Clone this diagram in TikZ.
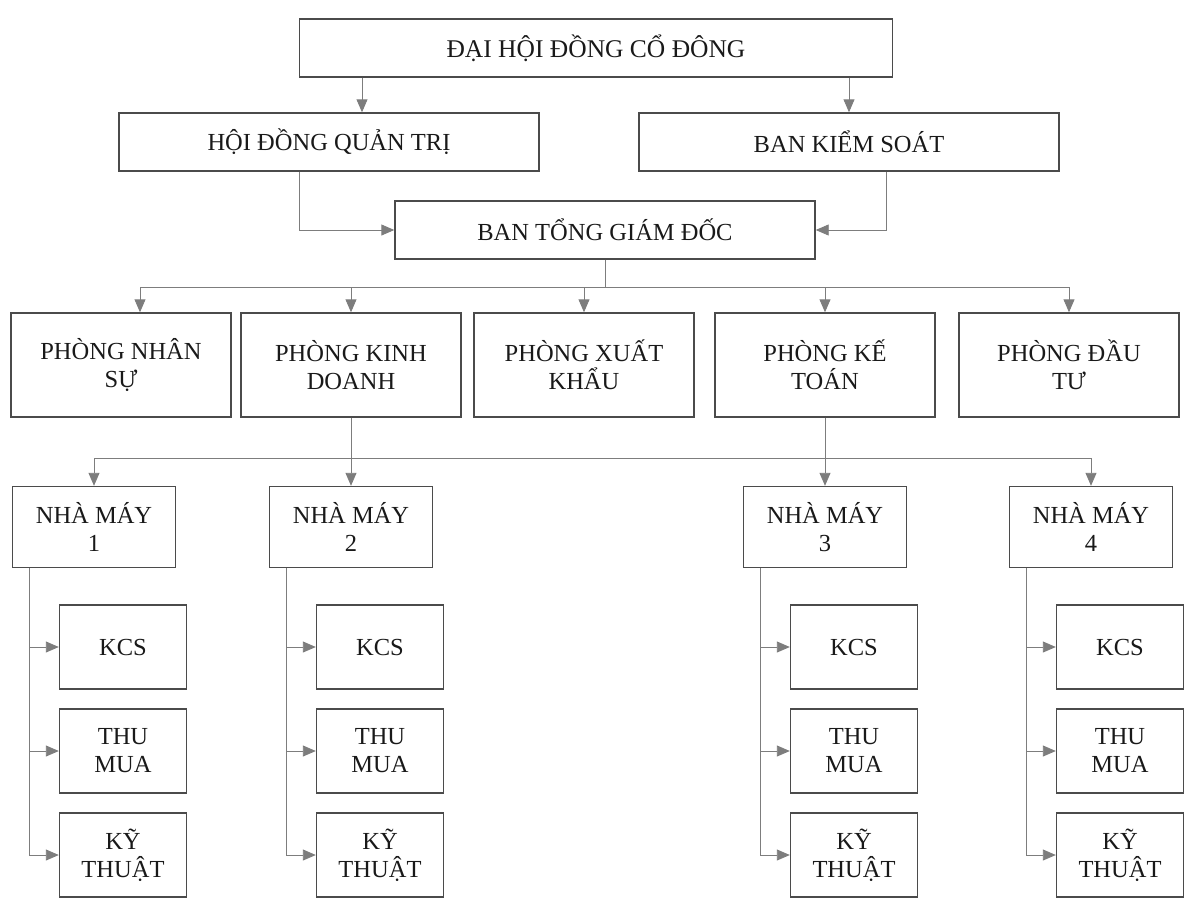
\documentclass[tikz,border=0pt]{standalone}
\usepackage{fontspec}
\setmainfont{Liberation Serif}
\usetikzlibrary{arrows.meta}
\definecolor{BoxGray}{RGB}{75, 75, 75}
\definecolor{LinkGray}{RGB}{125, 125, 125}

\begin{document}
\begin{tikzpicture}[x=1pt, y=-1pt,
        box/.style={draw=BoxGray, line width=1.4pt, inner sep=0pt, align=center, text=black!90, font=\fontsize{24.5}{28}\selectfont},
        wide/.style={box, minimum width=420pt, minimum height=58pt},
        dept/.style={box, minimum width=220pt, minimum height=104pt},
        plant/.style={box, minimum width=163pt, minimum height=81pt},
        unit/.style={box, minimum width=127pt, minimum height=84pt},
        link/.style={draw=LinkGray, line width=0.9pt},
        arr/.style={link, -{Triangle[length=13pt, width=11pt]}}
    ]
        \useasboundingbox (0,0) rectangle (1188,911);

        % top levels
        \node[box, minimum width=593pt, minimum height=58pt, font=\fontsize{25.5}{28}\selectfont] (dhcd) at (596,48) {ĐẠI HỘI ĐỒNG CỔ ĐÔNG};
        \node[wide] (hdqt) at (329,142) {HỘI ĐỒNG QUẢN TRỊ};
        \node[wide] (bks) at (849,142) {BAN KIỂM SOÁT};
        \node[wide] (btgd) at (605,230) {BAN TỔNG GIÁM ĐỐC};

        % departments
        \node[dept] (pns) at (121,365) {PHÒNG NHÂN\\SỰ};
        \node[dept] (pkd) at (351,365) {PHÒNG KINH\\DOANH};
        \node[dept] (pxk) at (584,365) {PHÒNG XUẤT\\KHẨU};
        \node[dept] (pkt) at (825,365) {PHÒNG KẾ\\TOÁN};
        \node[dept] (pdt) at (1069,365) {PHÒNG ĐẦU\\TƯ};

        % factories
        \node[plant] (nm1) at (94,527) {NHÀ MÁY\\1};
        \node[plant] (nm2) at (351,527) {NHÀ MÁY\\2};
        \node[plant] (nm3) at (825,527) {NHÀ MÁY\\3};
        \node[plant] (nm4) at (1091,527) {NHÀ MÁY\\4};

        \node[unit] (kcs1) at (123,647) {KCS};
        \node[unit] (tm1) at (123,751) {THU\\MUA};
        \node[unit] (kth1) at (123,855) {KỸ\\THUẬT};

        \node[unit] (kcs2) at (380,647) {KCS};
        \node[unit] (tm2) at (380,751) {THU\\MUA};
        \node[unit] (kth2) at (380,855) {KỸ\\THUẬT};

        \node[unit] (kcs3) at (854,647) {KCS};
        \node[unit] (tm3) at (854,751) {THU\\MUA};
        \node[unit] (kth3) at (854,855) {KỸ\\THUẬT};

        \node[unit] (kcs4) at (1120,647) {KCS};
        \node[unit] (tm4) at (1120,751) {THU\\MUA};
        \node[unit] (kth4) at (1120,855) {KỸ\\THUẬT};

        % helper points
        \coordinate (d1) at (362,0);
        \coordinate (d2) at (299,0);
        \coordinate (d3) at (886,0);
        \coordinate (d4) at (140,0);
        \coordinate (bus1) at (0,287);
        \coordinate (bus2) at (0,458);

        \draw[arr] (dhcd.south -| d1) -- (hdqt.north -| d1);
        \draw[arr] (dhcd.south -| bks.north) -- (bks.north);
        \draw[arr] (hdqt.south -| d2) |- (btgd.west);
        \draw[arr] (bks.south -| d3) |- (btgd.east);

        \draw[link] (btgd.south) -- (btgd.south |- bus1);
        \draw[link] (d4 |- bus1) -- (pdt.north |- bus1);
        \draw[arr] (d4 |- bus1) -- (d4 |- pns.north);
        \draw[arr] (pkd.north |- bus1) -- (pkd.north);
        \draw[arr] (pxk.north |- bus1) -- (pxk.north);
        \draw[arr] (pkt.north |- bus1) -- (pkt.north);
        \draw[arr] (pdt.north |- bus1) -- (pdt.north);

        \draw[arr] (pkd.south) -- (nm2.north);
        \draw[arr] (pkt.south) -- (nm3.north);
        \draw[link] (nm1.north |- bus2) -- (nm4.north |- bus2);
        \draw[arr] (nm1.north |- bus2) -- (nm1.north);
        \draw[arr] (nm4.north |- bus2) -- (nm4.north);

        \coordinate (v1) at ([xshift=18pt]nm1.south west);
        \coordinate (v2) at ([xshift=18pt]nm2.south west);
        \coordinate (v3) at ([xshift=18pt]nm3.south west);
        \coordinate (v4) at ([xshift=18pt]nm4.south west);

        \draw[arr] (v1) |- (kth1.west);
        \draw[arr] (v1 |- kcs1.west) -- (kcs1.west);
        \draw[arr] (v1 |- tm1.west) -- (tm1.west);

        \draw[arr] (v2) |- (kth2.west);
        \draw[arr] (v2 |- kcs2.west) -- (kcs2.west);
        \draw[arr] (v2 |- tm2.west) -- (tm2.west);

        \draw[arr] (v3) |- (kth3.west);
        \draw[arr] (v3 |- kcs3.west) -- (kcs3.west);
        \draw[arr] (v3 |- tm3.west) -- (tm3.west);

        \draw[arr] (v4) |- (kth4.west);
        \draw[arr] (v4 |- kcs4.west) -- (kcs4.west);
        \draw[arr] (v4 |- tm4.west) -- (tm4.west);
    \end{tikzpicture}
\end{document}
